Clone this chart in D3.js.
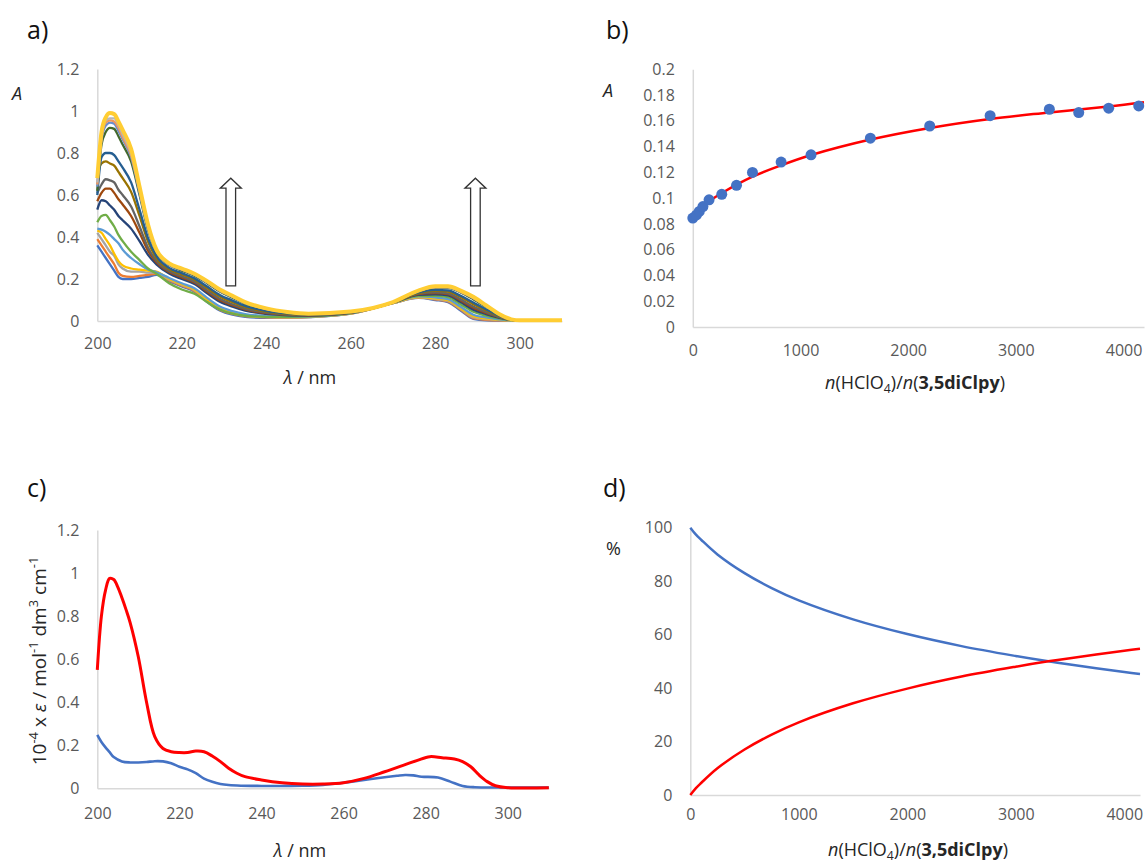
<!DOCTYPE html>
<html>
<head>
<meta charset="utf-8">
<script src="https://cdn.jsdelivr.net/npm/d3@7"></script>
<style>
  body { margin: 0; background: #fff; }
  text { font-family: "Open Sans", sans-serif; }
  .tick text { fill: #595959; font-size: 16px; }
</style>
</head>
<body>
<svg id="fig" width="1147" height="865"></svg>
<script>
// ---------- data: panel a (titration spectra) ----------
var aWl = [200,201,202,203,204,205,206,208,210,212,214,217,220,223,226,229,232,235,240,245,250,260,270,276,280,283,286,289,292,295,298,300,310];
var aAbs = [
  [0.36,0.33,0.30,0.27,0.24,0.21,0.20,0.20,0.205,0.21,0.22,0.19,0.165,0.14,0.09,0.05,0.03,0.02,0.015,0.015,0.018,0.035,0.085,0.11,0.10,0.09,0.05,0.01,0.003,0.002,0.002,0.002,0.002],
  [0.39,0.36,0.33,0.30,0.27,0.23,0.215,0.21,0.215,0.22,0.225,0.193,0.168,0.143,0.094,0.054,0.034,0.023,0.017,0.016,0.019,0.035,0.085,0.111,0.103,0.093,0.054,0.014,0.006,0.003,0.002,0.002,0.002],
  [0.42,0.39,0.36,0.33,0.31,0.27,0.25,0.235,0.235,0.23,0.23,0.197,0.172,0.147,0.098,0.058,0.037,0.026,0.019,0.017,0.019,0.036,0.085,0.113,0.105,0.096,0.058,0.018,0.009,0.005,0.002,0.002,0.002],
  [0.43,0.42,0.39,0.36,0.32,0.285,0.265,0.25,0.245,0.24,0.235,0.20,0.175,0.15,0.102,0.062,0.041,0.028,0.02,0.018,0.02,0.036,0.086,0.114,0.108,0.099,0.061,0.023,0.012,0.006,0.003,0.002,0.002],
  [0.44,0.435,0.425,0.41,0.39,0.37,0.34,0.30,0.27,0.245,0.232,0.205,0.18,0.156,0.11,0.069,0.047,0.033,0.024,0.02,0.021,0.037,0.086,0.117,0.112,0.104,0.068,0.03,0.017,0.008,0.003,0.002,0.002],
  [0.47,0.50,0.505,0.48,0.45,0.41,0.38,0.33,0.29,0.25,0.225,0.18,0.15,0.13,0.09,0.055,0.035,0.025,0.02,0.02,0.022,0.038,0.087,0.12,0.12,0.114,0.08,0.044,0.026,0.012,0.004,0.002,0.002],
  [0.53,0.575,0.57,0.55,0.53,0.50,0.48,0.44,0.38,0.315,0.27,0.226,0.20,0.176,0.132,0.092,0.068,0.049,0.034,0.027,0.025,0.039,0.087,0.125,0.127,0.122,0.09,0.054,0.033,0.016,0.005,0.002,0.002],
  [0.57,0.61,0.63,0.63,0.61,0.58,0.555,0.50,0.42,0.335,0.28,0.233,0.208,0.183,0.14,0.10,0.075,0.055,0.037,0.029,0.027,0.04,0.088,0.128,0.133,0.128,0.098,0.063,0.039,0.019,0.005,0.002,0.002],
  [0.61,0.65,0.675,0.67,0.66,0.625,0.60,0.545,0.45,0.35,0.287,0.238,0.213,0.188,0.146,0.106,0.08,0.059,0.04,0.031,0.028,0.041,0.088,0.13,0.136,0.132,0.103,0.069,0.043,0.02,0.005,0.002,0.002],
  [0.71,0.75,0.76,0.75,0.74,0.71,0.68,0.615,0.50,0.378,0.30,0.247,0.222,0.197,0.157,0.117,0.09,0.067,0.045,0.034,0.029,0.042,0.088,0.133,0.144,0.14,0.114,0.08,0.051,0.024,0.006,0.003,0.003],
  [0.60,0.78,0.80,0.80,0.79,0.76,0.73,0.66,0.53,0.395,0.31,0.253,0.228,0.203,0.164,0.124,0.097,0.072,0.048,0.036,0.03,0.042,0.089,0.136,0.148,0.146,0.12,0.088,0.056,0.027,0.007,0.003,0.003],
  [0.62,0.84,0.90,0.92,0.915,0.88,0.84,0.76,0.60,0.435,0.33,0.267,0.24,0.216,0.18,0.14,0.111,0.083,0.056,0.04,0.033,0.044,0.09,0.142,0.158,0.158,0.136,0.104,0.068,0.032,0.008,0.003,0.003],
  [0.64,0.86,0.93,0.945,0.94,0.905,0.865,0.78,0.61,0.44,0.332,0.269,0.244,0.219,0.183,0.143,0.114,0.085,0.057,0.041,0.034,0.044,0.09,0.143,0.16,0.16,0.138,0.108,0.07,0.033,0.008,0.003,0.003],
  [0.65,0.87,0.945,0.955,0.95,0.92,0.875,0.79,0.62,0.447,0.334,0.27,0.246,0.221,0.185,0.145,0.116,0.087,0.058,0.042,0.034,0.045,0.09,0.143,0.162,0.161,0.14,0.11,0.072,0.034,0.008,0.003,0.003],
  [0.66,0.88,0.955,0.965,0.965,0.935,0.89,0.80,0.63,0.453,0.337,0.272,0.248,0.223,0.187,0.147,0.117,0.088,0.059,0.042,0.035,0.045,0.09,0.144,0.163,0.163,0.142,0.112,0.073,0.034,0.008,0.003,0.003],
  [0.68,0.90,0.97,0.99,0.985,0.95,0.91,0.82,0.64,0.46,0.34,0.275,0.25,0.225,0.19,0.15,0.12,0.09,0.06,0.043,0.035,0.045,0.09,0.145,0.165,0.165,0.145,0.115,0.075,0.035,0.008,0.003,0.003]
];
var aColors = ["#4472c4","#ed7d31","#a5a5a5","#ffc000","#5b9bd5","#70ad47","#264478","#9e480e",
               "#636363","#997300","#255e91","#43682b","#698ed0","#f1975a","#b7b7b7","#ffcd33"];
var aArrowWl = [231.6, 289.5];   // arrows: wavelength, from A=0.167 up to A=0.68
var aArrowA = [0.167, 0.68];

// ---------- data: panel b (A vs ratio) ----------
var bRatio = [0,34,60,94,151,269,406,554,820,1098,1649,2200,2761,3311,3584,3862,4141];
var bAbs = [0.0845,0.087,0.0897,0.0935,0.0987,0.103,0.110,0.120,0.128,0.1336,0.1465,0.156,0.164,0.169,0.1664,0.1698,0.1716];
var bFitX = [0,150,270,550,820,1100,1650,2200,2760,3310,3860,4190];
var bFitY = [0.088,0.0975,0.104,0.1165,0.1255,0.1335,0.1455,0.1545,0.1615,0.1665,0.1712,0.1745];

// ---------- data: panel c (molar absorptivities) ----------
var cRedWl = [200,201,202,203,204,205,206,207,208,210,212,214,216,218,220,222,224,226,228,230,232,234,236,240,245,250,255,260,265,270,275,278,281,284,287,289,291,293,295,297,300,310];
var cRed = [0.55,0.80,0.92,0.975,0.97,0.935,0.885,0.83,0.77,0.61,0.40,0.24,0.185,0.17,0.166,0.166,0.173,0.17,0.15,0.124,0.093,0.07,0.054,0.039,0.026,0.02,0.02,0.026,0.046,0.077,0.11,0.13,0.147,0.142,0.136,0.124,0.10,0.062,0.031,0.012,0.003,0.002];
var cBlueWl = [200,201,202,203,204,206,208,210,212,214,216,218,220,222,224,226,228,230,232,235,240,245,250,255,260,265,270,273,275,277,279,283,286,289,292,300,310];
var cBlue = [0.248,0.215,0.19,0.168,0.145,0.125,0.12,0.12,0.122,0.126,0.125,0.116,0.10,0.088,0.07,0.045,0.03,0.02,0.015,0.012,0.011,0.011,0.012,0.016,0.026,0.039,0.051,0.058,0.062,0.06,0.054,0.05,0.031,0.011,0.005,0.004,0.004];

// ---------- data: panel d (species distribution) ----------
var dRatio = [0,50,100,250,500,750,1000,1500,2000,2500,3000,3300,3500,4000,4145];
var dFree = [100,97.5,95.5,90.0,83.0,77.4,72.8,65.7,60.2,55.7,52.0,50.0,48.8,46.0,45.3];
var dProt = [0,2.5,4.5,10.0,17.0,22.6,27.2,34.3,39.8,44.3,48.0,50.0,51.2,54.0,54.7];

// ---------- tick values ----------
var specYTicks = [0,0.2,0.4,0.6,0.8,1,1.2];
var specXTicks = [200,220,240,260,280,300];
var bYTicks = [0,0.02,0.04,0.06,0.08,0.1,0.12,0.14,0.16,0.18,0.2];
var ratioTicks = [0,1000,2000,3000,4000];
var dYTicks = [0,20,40,60,80,100];

var svg = d3.select("#fig");
var smooth = d3.curveCatmullRom.alpha(0.5);

// builds one panel with left and bottom axes (Excel look: light axis lines, no tick marks)
function makePanel(o) {
  var x = d3.scaleLinear().domain(o.xDomain).range(o.xRange);
  var y = d3.scaleLinear().domain(o.yDomain).range(o.yRange);
  var g = svg.append("g");
  g.append("g")
    .attr("transform", "translate(" + o.xRange[0] + ",0)")
    .call(d3.axisLeft(y).tickValues(o.yTicks).tickSize(0).tickPadding(18).tickFormat(function(d){ return String(d); }));
  g.append("g")
    .attr("transform", "translate(0," + o.yRange[0] + ")")
    .call(d3.axisBottom(x).tickValues(o.xTicks).tickSize(0).tickPadding(o.xPad).tickFormat(function(d){ return String(d); }));
  g.selectAll(".domain").attr("stroke", "#d9d9d9").attr("stroke-width", 1.5);
  return { g: g, x: x, y: y };
}

function rich(sel, parts, size) {
  var shift = 0;
  parts.forEach(function(p) {
    var ts = sel.append("tspan").text(p.t);
    var want = p.sup ? -0.42 * size : (p.sub ? 0.22 * size : 0);
    if (want !== shift) { ts.attr("dy", want - shift); shift = want; }
    if (p.sup || p.sub) ts.attr("font-size", size * 0.68);
    if (p.i) ts.attr("font-style", "italic");
    if (p.b) ts.attr("font-weight", "bold");
  });
}

function label(x, y, txt, size, opts) {
  opts = opts || {};
  return svg.append("text")
    .attr("x", x).attr("y", y)
    .attr("font-size", size)
    .attr("fill", opts.fill || "#262626")
    .attr("text-anchor", opts.anchor || "start")
    .attr("font-style", opts.italic ? "italic" : null)
    .text(txt);
}

var ratioTitle = [{t:"n", i:true},{t:"(HClO"},{t:"4", sub:true},{t:")/"},{t:"n", i:true},{t:"("},{t:"3,5diClpy", b:true},{t:")"}];

// ---------- panel a ----------
var pa = makePanel({ xDomain:[200,310], xRange:[97.3,562], yDomain:[0,1.2], yRange:[321,69],
                     yTicks: specYTicks, xTicks: specXTicks, xPad: 17 });
var lineA = d3.line()
  .x(function(d){ return pa.x(d[0]); })
  .y(function(d){ return pa.y(d[1]); })
  .curve(d3.curveMonotoneX);
pa.g.selectAll(".spec")
  .data(aAbs)
  .enter()
  .append("path")
    .attr("fill", "none")
    .attr("stroke", function(d, i){ return aColors[i]; })
    .attr("stroke-width", function(d, i){ return i == aAbs.length - 1 ? 4 : 2.3; })
    .attr("stroke-linejoin", "round")
    .attr("d", function(d){ return lineA(aWl.map(function(w, k){ return [w, d[k]]; })); });

// open arrows
aArrowWl.forEach(function(w) {
  var cx = pa.x(w), yt = pa.y(aArrowA[1]), yb = pa.y(aArrowA[0]);
  var hw = 4.8, hh = 10, head = 10.5;
  var pts = [[cx-hw,yb],[cx-hw,yt+hh],[cx-head,yt+hh],[cx,yt],[cx+head,yt+hh],[cx+hw,yt+hh],[cx+hw,yb]];
  pa.g.append("path")
    .attr("d", "M" + pts.join("L") + "Z")
    .attr("fill", "#fff").attr("stroke", "#333").attr("stroke-width", 1.3);
});

label(27, 39, "a)", 25, { fill: "#111" });
label(12, 100, "A", 18, { italic: true });
var ta = svg.append("text").attr("x", 310).attr("y", 384).attr("font-size", 18).attr("fill", "#262626").attr("text-anchor", "middle");
rich(ta, [{t:"λ", i:true},{t:" / nm"}], 18);

// ---------- panel b ----------
var pb = makePanel({ xDomain:[0,4190], xRange:[692.8,1144], yDomain:[0,0.2], yRange:[327,69.3],
                     yTicks: bYTicks, xTicks: ratioTicks, xPad: 18 });
var lineB = d3.line()
  .x(function(d){ return pb.x(d[0]); })
  .y(function(d){ return pb.y(d[1]); })
  .curve(smooth);
pb.g.append("path")
  .attr("fill", "none").attr("stroke", "#ff0000").attr("stroke-width", 2.5)
  .attr("d", lineB(bFitX.map(function(v, k){ return [v, bFitY[k]]; })));
pb.g.selectAll(".pt")
  .data(bRatio)
  .enter()
  .append("circle")
    .attr("cx", function(d){ return pb.x(d); })
    .attr("cy", function(d, i){ return pb.y(bAbs[i]); })
    .attr("r", 5.5)
    .attr("fill", "#4472c4");

label(606, 39, "b)", 25, { fill: "#111" });
label(603, 97, "A", 18, { italic: true });
var tb = svg.append("text").attr("x", 915).attr("y", 389).attr("font-size", 18).attr("fill", "#262626").attr("text-anchor", "middle");
rich(tb, ratioTitle, 18);

// ---------- panel c ----------
var pc = makePanel({ xDomain:[200,310], xRange:[97.3,548.8], yDomain:[0,1.2], yRange:[788.3,530],
                     yTicks: specYTicks, xTicks: specXTicks, xPad: 19 });
var lineC = d3.line()
  .x(function(d){ return pc.x(d[0]); })
  .y(function(d){ return pc.y(d[1]); })
  .curve(smooth);
pc.g.append("path")
  .attr("fill", "none").attr("stroke", "#4472c4").attr("stroke-width", 2.6)
  .attr("d", lineC(cBlueWl.map(function(w, k){ return [w, cBlue[k]]; })));
pc.g.append("path")
  .attr("fill", "none").attr("stroke", "#ff0000").attr("stroke-width", 3)
  .attr("d", lineC(cRedWl.map(function(w, k){ return [w, cRed[k]]; })));

label(27, 497, "c)", 25, { fill: "#111" });
var tcy = svg.append("text").attr("transform", "translate(46,661) rotate(-90)")
  .attr("font-size", 19).attr("fill", "#262626").attr("text-anchor", "middle");
rich(tcy, [{t:"10"},{t:"-4", sup:true},{t:" x "},{t:"ε", i:true},{t:" / mol"},{t:"-1", sup:true},{t:" dm"},{t:"3", sup:true},{t:" cm"},{t:"-1", sup:true}], 19);
var tcx = svg.append("text").attr("x", 300).attr("y", 857).attr("font-size", 18).attr("fill", "#262626").attr("text-anchor", "middle");
rich(tcx, [{t:"λ", i:true},{t:" / nm"}], 18);

// ---------- panel d ----------
var pd = makePanel({ xDomain:[0,4145], xRange:[690.3,1140], yDomain:[0,100], yRange:[795,527.7],
                     yTicks: dYTicks, xTicks: ratioTicks, xPad: 14 });
var lineD = d3.line()
  .x(function(d){ return pd.x(d[0]); })
  .y(function(d){ return pd.y(d[1]); })
  .curve(smooth);
pd.g.append("path")
  .attr("fill", "none").attr("stroke", "#4472c4").attr("stroke-width", 2.5)
  .attr("d", lineD(dRatio.map(function(v, k){ return [v, dFree[k]]; })));
pd.g.append("path")
  .attr("fill", "none").attr("stroke", "#ff0000").attr("stroke-width", 2.5)
  .attr("d", lineD(dRatio.map(function(v, k){ return [v, dProt[k]]; })));

label(603, 497, "d)", 25, { fill: "#111" });
label(606, 555, "%", 18);
var td = svg.append("text").attr("x", 918).attr("y", 856).attr("font-size", 18).attr("fill", "#262626").attr("text-anchor", "middle");
rich(td, ratioTitle, 18);
</script>
</body>
</html>
